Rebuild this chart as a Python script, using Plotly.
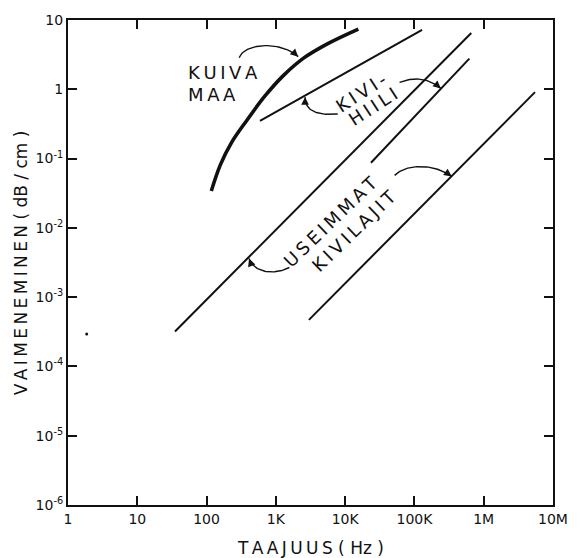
import numpy as np
import plotly.graph_objects as go

# ---------------- data (frequency in Hz, attenuation in dB/cm) ----------------
kuiva_f = [117, 158, 229, 380, 692, 1259, 2512, 5623, 15500]
kuiva_a = [0.034, 0.081, 0.170, 0.355, 0.794, 1.55, 2.82, 4.57, 7.41]

kivihiili_f = [590, 129000]
kivihiili_a = [0.35, 7.2]

useimmat1_f = [35, 661000]
useimmat1_a = [3.2e-4, 6.5]
useimmat2_f = [23600, 620000]
useimmat2_a = [0.087, 2.77]
useimmat3_f = [3000, 5.5e6]
useimmat3_a = [4.7e-4, 0.91]

speck_f = [1.86]
speck_a = [2.95e-4]

x_tickvals = [1, 10, 100, 1e3, 1e4, 1e5, 1e6, 1e7]
x_ticktext = ["1", "10", "100", "1K", "10K", "100K", "1M", "10M"]
y_tickvals = [1e-6, 1e-5, 1e-4, 1e-3, 1e-2, 1e-1, 1, 10]
y_ticktext = ["10<sup>-6</sup>", "10<sup>-5</sup>", "10<sup>-4</sup>", "10<sup>-3</sup>",
              "10<sup>-2</sup>", "10<sup>-1</sup>", "1", "10"]

# label positions (Hz, dB/cm)
labels = [
    ("KUIVA", 50.6, 1.75, 0, "left"),
    ("MAA", 50.6, 0.85, 0, "left"),
    ("KIVI-", 17000, 0.906, -33, "center"),
    ("HIILI", 25200, 0.571, -33, "center"),
    ("USEIMMAT", 6180, 0.0122, -44, "center"),
    ("KIVILAJIT", 13550, 0.00906, -44, "center"),
]

# curved pointer arrows: cubic Bezier control points (Hz, dB/cm)
arrows = [
    [(295, 2.87), (360, 4.69), (1200, 5.0), (2100, 2.96)],
    [(7820, 0.44), (3785, 0.411), (2640, 0.50), (2640, 0.77)],
    [(61000, 1.26), (99500, 1.53), (162500, 1.44), (240500, 1.03)],
    [(51800, 0.0572), (76600, 0.0849), (191400, 0.0849), (344600, 0.0553)],
    [(1567, 0.00268), (1023, 0.00213), (499, 0.00213), (410, 0.0036)],
]

# ---------------- figure ----------------
W, H = 580, 558
ML, MR, MT, MB = 68, 19, 15, 53
INK = "#111111"
FONT = "DejaVu Sans"

fig = go.Figure()

def add_line(xs, ys, w, shape="linear"):
    fig.add_trace(go.Scatter(x=xs, y=ys, mode="lines",
                             line=dict(color=INK, width=w, shape=shape, smoothing=1.0),
                             hoverinfo="skip", showlegend=False))

add_line(kuiva_f, kuiva_a, 3.6, "spline")
add_line(kivihiili_f, kivihiili_a, 2.0)
add_line(useimmat1_f, useimmat1_a, 2.0)
add_line(useimmat2_f, useimmat2_a, 2.0)
add_line(useimmat3_f, useimmat3_a, 2.0)
fig.add_trace(go.Scatter(x=speck_f, y=speck_a, mode="markers",
                         marker=dict(color=INK, size=3), hoverinfo="skip",
                         showlegend=False))

# px per decade, from layout
px_dec_x = (W - ML - MR) / 7.0
px_dec_y = (H - MT - MB) / 7.0

annotations = []
t = np.linspace(0, 1, 40)
for pts in arrows:
    lp = np.log10(np.array(pts))
    b = ((1 - t) ** 3)[:, None] * lp[0] + (3 * (1 - t) ** 2 * t)[:, None] * lp[1] \
        + (3 * (1 - t) * t ** 2)[:, None] * lp[2] + (t ** 3)[:, None] * lp[3]
    add_line(10 ** b[:, 0], 10 ** b[:, 1], 1.4)
    dxp = (lp[3, 0] - lp[2, 0]) * px_dec_x
    dyp = -(lp[3, 1] - lp[2, 1]) * px_dec_y
    n = np.hypot(dxp, dyp)
    L = 7.0
    annotations.append(dict(
        x=lp[3, 0], y=lp[3, 1], xref="x", yref="y", text="",
        showarrow=True, arrowhead=2, arrowsize=1.1, arrowwidth=1.4,
        arrowcolor=INK, standoff=0,
        ax=-dxp / n * L, ay=-dyp / n * L))

def spaced(s):
    return "\u2009".join(s)

for txt, fx, fy, ang, anchor in labels:
    annotations.append(dict(
        x=np.log10(fx), y=np.log10(fy), xref="x", yref="y",
        text=spaced(txt), showarrow=False, textangle=ang,
        xanchor=anchor, yanchor="middle",
        font=dict(family=FONT, size=18, color=INK)))

# axis titles
annotations.append(dict(
    x=(20 - ML) / (W - ML - MR), y=0.5, xref="paper", yref="paper",
    text=spaced("VAIMENEMINEN") + " ( dB / cm )", textangle=-90,
    showarrow=False, xanchor="center", yanchor="middle",
    font=dict(family=FONT, size=17, color=INK)))
annotations.append(dict(
    x=0.5, y=-(548 - (H - MB)) / (H - MT - MB), xref="paper", yref="paper",
    text=spaced("TAAJUUS") + " ( Hz )", showarrow=False,
    xanchor="center", yanchor="middle",
    font=dict(family=FONT, size=17, color=INK)))

axis_common = dict(
    type="log", showgrid=False, zeroline=False,
    showline=True, linecolor=INK, linewidth=2, mirror="ticks",
    ticks="inside", ticklen=9, tickwidth=1.5, tickcolor=INK,
    tickfont=dict(family=FONT, size=14, color=INK),
)

fig.update_layout(
    width=W, height=H, autosize=False,
    margin=dict(l=ML, r=MR, t=MT, b=MB, pad=0),
    paper_bgcolor="white", plot_bgcolor="white",
    xaxis=dict(range=[0, 7], tickvals=x_tickvals, ticktext=x_ticktext, **axis_common),
    yaxis=dict(range=[-6, 1], tickvals=y_tickvals, ticktext=y_ticktext, **axis_common),
    annotations=annotations,
    showlegend=False,
)

fig.write_html("out.html")
